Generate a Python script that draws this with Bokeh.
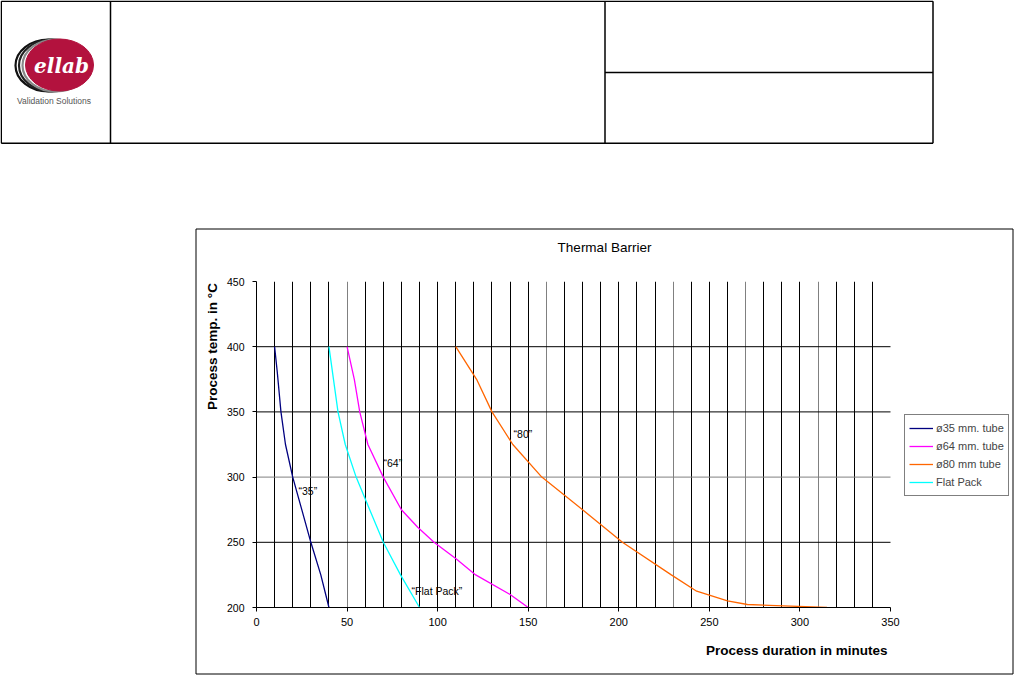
import math
from bokeh.plotting import figure
from bokeh.models import Range1d, FixedTicker, Grid, Legend, LegendItem
from bokeh.embed import file_html
from bokeh.resources import INLINE
from bokeh.core.properties import value

# ---------------- data ----------------
tube35_x = [10, 11.5, 13.5, 16, 20, 25, 30, 35.5, 40]
tube35_y = [400, 380, 350, 325, 300, 275, 250, 225, 200]

tube64_x = [50, 54, 57, 61.5, 70, 80, 89, 98, 110.5, 121, 140, 150]
tube64_y = [400, 375, 350, 325, 300, 275, 261.5, 250, 237, 225, 210, 200]

tube80_x = [110, 121.5, 130, 141.5, 157.5, 180, 202, 229, 243, 260, 271, 291, 315]
tube80_y = [400, 375, 350, 325, 300, 275, 250, 225, 212.5, 205, 202.3, 201.3, 200]

flat_x = [40, 42.5, 45, 49, 55, 62.5, 70, 79.5, 90]
flat_y = [400, 375, 350, 325, 300, 275, 250, 225, 200]

series_names = ["ø35 mm. tube", "ø64 mm. tube", "ø80 mm tube", "Flat Pack"]
series_colors = ["#000080", "#FF00FF", "#FF6600", "#00FFFF"]

curve_label_text = ["\u201c35\u201d", "\u201c64\u201d", "\u201c80\u201d", "\u201cFlat Pack\u201d"]
curve_label_x = [23.2, 70.1, 141.9, 85.6]
curve_label_y = [289, 311, 332.7, 213]

chart_title = "Thermal Barrier"
x_title = "Process duration in minutes"
y_title = "Process temp. in \u00b0C"

x_ticks = [0, 50, 100, 150, 200, 250, 300, 350]
y_ticks = [200, 250, 300, 350, 400, 450]
vgrid_black = [10, 20, 30, 40, 60, 70, 80, 90, 100, 110, 120, 130, 140, 150, 170, 180,
               190, 200, 210, 220, 240, 250, 260, 280, 290, 300, 320, 330, 340]
vgrid_gray = [50, 160, 230, 270, 310]
hgrid_black = [250, 350, 400]
hgrid_gray = [300]

X_MIN, X_MAX = 0, 350
Y_MIN, Y_MAX = 200, 450

# ---------------- page geometry (pixels) ----------------
W, H = 1018, 678
PX_L, PX_R, PX_T, PX_B = 256, 890, 281, 607      # plot area
BOX_L, BOX_R, BOX_T, BOX_B = 195, 1013, 228, 674  # chart area border


def dx(px):
    return (px - PX_L) / (PX_R - PX_L) * (X_MAX - X_MIN) + X_MIN


FONT = "Liberation Sans"
ABS = {"position": "absolute", "left": "0px", "top": "0px"}

# ---------------- background: header table, logo, chart frame, titles ----------------
bg = figure(width=W, height=H, x_range=Range1d(0, W), y_range=Range1d(H, 0),
            output_backend="svg", toolbar_location=None, min_border=0,
            x_axis_location=None, y_axis_location=None, styles=ABS)
bg.grid.visible = False
bg.outline_line_color = None
bg.background_fill_color = "white"
bg.border_fill_color = "white"

# header table
seg_x0 = [0.75, 0.75, 0.75, 932.5, 110, 604.5, 604.5]
seg_y0 = [0.75, 142.75, 0.75, 0.75, 0.75, 0.75, 72]
seg_x1 = [932.5, 932.5, 0.75, 932.5, 110, 604.5, 932.5]
seg_y1 = [0.75, 142.75, 142.75, 142.75, 142.75, 142.75, 72]
bg.segment(seg_x0, seg_y0, seg_x1, seg_y1, line_color="black", line_width=1.5)

# logo
bg.ellipse(x=[48, 51.5, 55], y=[65, 65, 65], width=66, height=52,
           fill_color=None, line_color=["#111111", "#222222", "#888888"], line_width=2.2)
bg.ellipse(x=[59], y=[64.5], width=68, height=52, fill_color="#B3123E", line_color="#B3123E")
bg.text(x=[61], y=[65], text=["ellab"], text_color="white",
        text_font=value("DejaVu Serif"), text_font_style="bold italic",
        text_font_size="20px", text_align="center", text_baseline="middle")
bg.text(x=[53.5], y=[100], text=["Validation Solutions"], text_color="#555555",
        text_font=value(FONT), text_font_size="8.5px", text_align="center",
        text_baseline="middle")

# chart area border
bx = [BOX_L + 0.5, BOX_L + 0.5, BOX_L + 0.5, BOX_R - 0.5]
by = [BOX_T + 0.5, BOX_B - 0.5, BOX_T + 0.5, BOX_T + 0.5]
bx1 = [BOX_R - 0.5, BOX_R - 0.5, BOX_L + 0.5, BOX_R - 0.5]
by1 = [BOX_T + 0.5, BOX_B - 0.5, BOX_B - 0.5, BOX_B - 0.5]
bg.segment(bx, by, bx1, by1, line_color="black", line_width=1)

# titles
bg.text(x=[604], y=[247], text=[chart_title], text_font=value(FONT), text_font_size="13.5px",
        text_color="black", text_align="center", text_baseline="middle")
bg.text(x=[887], y=[650], text=[x_title], text_font=value(FONT), text_font_size="13.5px",
        text_font_style="bold", text_color="black", text_align="right", text_baseline="middle")
bg.text(x=[212], y=[346], text=[y_title], text_font=value(FONT), text_font_size="13.5px",
        text_font_style="bold", text_color="black", text_align="center",
        text_baseline="middle", angle=math.pi / 2)

# ---------------- data chart (transparent overlay) ----------------
p = figure(width=W, height=H,
           x_range=Range1d(X_MIN, dx(BOX_R)), y_range=Range1d(Y_MIN, Y_MAX),
           output_backend="svg", toolbar_location=None,
           min_border_left=PX_L, min_border_right=W - BOX_R,
           min_border_top=PX_T, min_border_bottom=H - PX_B, styles=ABS)
p.background_fill_color = None
p.border_fill_color = None
p.outline_line_color = None

# grids
p.xgrid.ticker = FixedTicker(ticks=vgrid_black)
p.xgrid.grid_line_color = "black"
p.ygrid.visible = False
p.add_layout(Grid(dimension=0, ticker=FixedTicker(ticks=vgrid_gray), grid_line_color="#808080"))
p.segment(x0=[X_MIN] * len(hgrid_black), x1=[X_MAX] * len(hgrid_black), y0=hgrid_black,
          y1=hgrid_black, line_color="black", line_width=1)
p.segment(x0=[X_MIN] * len(hgrid_gray), x1=[X_MAX] * len(hgrid_gray), y0=hgrid_gray,
          y1=hgrid_gray, line_color="#808080", line_width=1)

# axes
p.xaxis.ticker = FixedTicker(ticks=x_ticks)
p.yaxis.ticker = FixedTicker(ticks=y_ticks)
p.xaxis.bounds = (X_MIN, X_MAX)
p.yaxis.bounds = (Y_MIN, Y_MAX)
for ax in (p.xaxis[0], p.yaxis[0]):
    ax.axis_line_color = "black"
    ax.major_tick_line_color = "black"
    ax.major_tick_out = 4
    ax.major_tick_in = 0
    ax.minor_tick_line_color = None
    ax.major_label_text_font = FONT
    ax.major_label_text_color = "black"
p.xaxis.major_label_text_font_size = "11px"
p.yaxis.major_label_text_font_size = "10.5px"
p.xaxis.major_label_standoff = 6
p.yaxis.major_label_standoff = 8

# series
renderers = []
for xs, ys, c in [(tube35_x, tube35_y, series_colors[0]),
                  (tube64_x, tube64_y, series_colors[1]),
                  (tube80_x, tube80_y, series_colors[2]),
                  (flat_x, flat_y, series_colors[3])]:
    renderers.append(p.line(xs, ys, line_color=c, line_width=1.3))

# curve labels
p.text(x=curve_label_x, y=curve_label_y, text=curve_label_text,
       text_font=value(FONT), text_font_size="10.5px", text_color="black",
       text_align="left", text_baseline="middle")

# legend
legend = Legend(items=[LegendItem(label=n, renderers=[r]) for n, r in zip(series_names, renderers)],
                location=(904 - PX_L, PX_B - 495.5))
legend.border_line_color = "black"
legend.border_line_width = 1
legend.background_fill_color = "white"
legend.background_fill_alpha = 1
legend.padding = 4
legend.spacing = 0
legend.margin = 0
legend.glyph_width = 24
legend.glyph_height = 18
legend.label_height = 18
legend.label_standoff = 3
legend.label_text_font = FONT
legend.label_text_font_size = "11px"
p.add_layout(legend)

open("out.html", "w").write(file_html([bg, p], INLINE))
